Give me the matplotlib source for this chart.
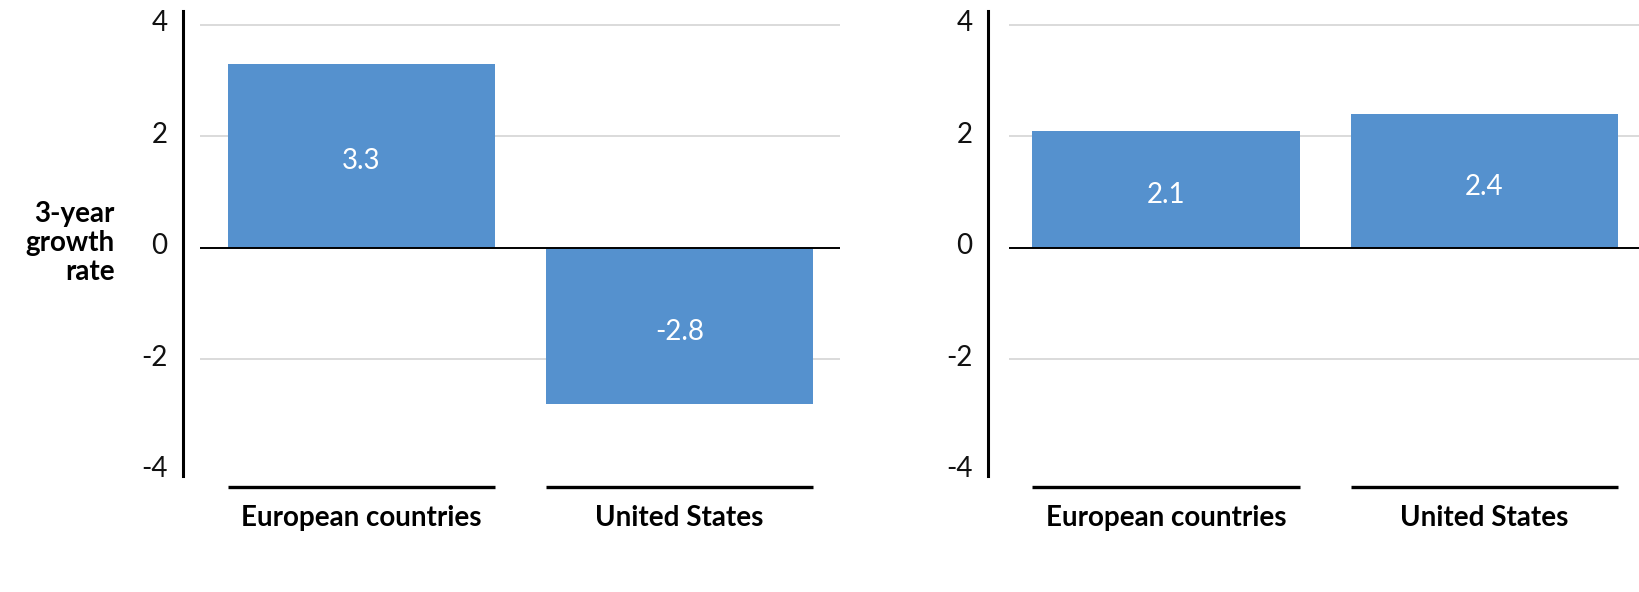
import matplotlib
matplotlib.use("Agg")
import matplotlib.pyplot as plt
import matplotlib.transforms as mtransforms

categories = ["European countries", "United States"]
left_values = [3.3, -2.8]
right_values = [2.1, 2.4]
yticks = [-4, -2, 0, 2, 4]
ylabel = "3-year\ngrowth\nrate"

BAR_COLOR = "#5591ce"
GRID_COLOR = "#d4d4d4"
FONT = "Lato"

W, H = 1640, 592
fig = plt.figure(figsize=(W / 100, H / 100), dpi=100)

def px_axes(x0, x1, y_top, y_bot):
    return fig.add_axes([x0 / W, 1 - y_bot / H, (x1 - x0) / W, (y_bot - y_top) / H])

def draw_panel(ax, values, xlim, spine_offset_px, show_ylabel):
    x = list(range(len(categories)))
    ax.set_xlim(*xlim)
    ax.set_ylim(-4.09, 4.25)
    for t in yticks:
        if t == 0:
            ax.axhline(0, color="black", lw=1.4, zorder=3)
        elif t != -4:
            ax.axhline(t, color=GRID_COLOR, lw=1.2, zorder=0)
    ax.bar(x, values, width=0.84, color=BAR_COLOR, zorder=2)
    down = mtransforms.ScaledTranslation(0, -3 / 100, fig.dpi_scale_trans)
    for xi, v in zip(x, values):
        ax.text(xi, v / 2, f"{v:.1f}", color="white", ha="center", va="center_baseline",
                fontsize=20, family=FONT, zorder=4, transform=ax.transData + down)
    for s in ["top", "right", "bottom"]:
        ax.spines[s].set_visible(False)
    ax.spines["left"].set_position(("outward", spine_offset_px * 0.72))
    ax.spines["left"].set_linewidth(2.2)
    ax.set_yticks(yticks)
    ax.set_yticklabels([str(t) for t in yticks], family=FONT, fontsize=20, color="#111111")
    ax.tick_params(axis="y", length=0, pad=11)
    shift = mtransforms.ScaledTranslation(0, 4 / 100, fig.dpi_scale_trans)
    for lbl in ax.get_yticklabels():
        lbl.set_transform(lbl.get_transform() + shift)
    ax.set_xticks([])
    trans = mtransforms.blended_transform_factory(ax.transData, ax.transAxes)
    for xi, c in zip(x, categories):
        ax.plot([xi - 0.42, xi + 0.42], [-0.0237, -0.0237], color="black", lw=2.4,
                transform=trans, clip_on=False, solid_capstyle="butt")
        ax.text(xi, -0.091, c, transform=trans, ha="center", va="center",
                fontsize=20, fontweight="bold", family=FONT)
    if show_ylabel:
        ax.text(115 / W, 1 - 243 / H, ylabel, transform=fig.transFigure, ha="right",
                va="center", multialignment="right", fontsize=20, fontweight="bold",
                family=FONT, linespacing=1.15)

ax1 = px_axes(200, 840, 11, 476)
draw_panel(ax1, left_values, (-0.508, 1.505), 17, True)
ax2 = px_axes(1009, 1640, 11, 476)
draw_panel(ax2, right_values, (-0.493, 1.488), 21, False)

fig.savefig("out.png", dpi=100)
